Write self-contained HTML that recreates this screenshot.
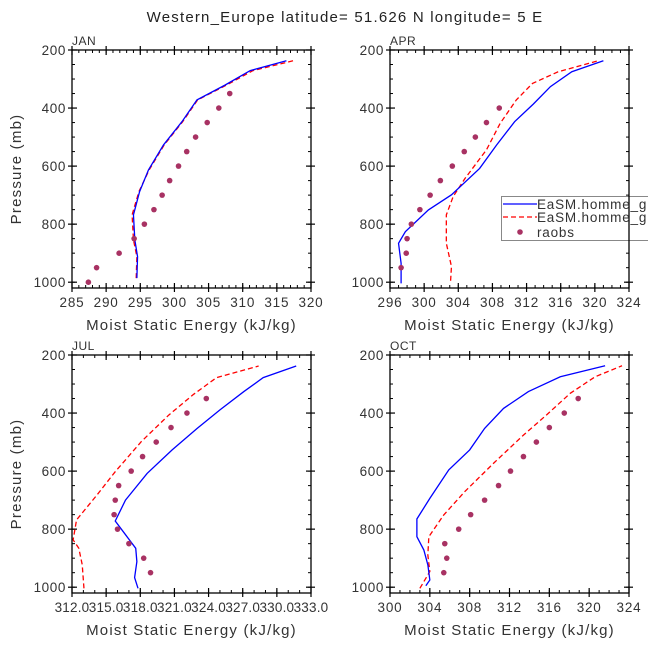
<!DOCTYPE html>
<html><head><meta charset="utf-8"><style>
body{margin:0;background:#fff}
svg{display:block;font-family:"Liberation Sans",sans-serif}
</style></head><body>
<svg id="c" width="648" height="649" xmlns="http://www.w3.org/2000/svg">
<text x="345" y="22" text-anchor="middle" font-size="15" letter-spacing="1.2" fill="#222">Western_Europe  latitude= 51.626 N longitude= 5 E</text>
</svg>
<script>
const janP=[986,912,854,768,688,613,527,447,372,321,271,237];
const janBlue=[294.5,294.6,294.2,294.0,294.9,296.2,298.4,301.1,303.3,307.4,311.1,316.4];
const janRed=[294.4,294.5,294.0,293.8,294.8,296.3,298.5,301.2,303.4,307.6,311.5,317.4];
const obsP=[1000,950,900,850,800,750,700,650,600,550,500,450,400,350];
const janObs=[287.4,288.6,291.9,294.1,295.6,297.0,298.2,299.3,300.6,301.8,303.1,304.8,306.5,308.1];
const aprBlueP=[1004,935,866,826,751,699,608,527,447,386,326,275,237];
const aprBlue=[297.3,297.3,297.0,297.8,300.5,303.2,306.5,308.5,310.6,312.8,314.8,317.3,321.0];
const aprRedP=[995,946,866,768,705,642,544,453,372,315,275,237];
const aprRed=[303.1,303.2,302.6,302.6,303.4,304.8,307.3,308.9,310.8,312.7,315.7,320.4];
const aprObs=[null,297.3,297.9,298.0,298.5,299.5,300.7,301.9,303.3,304.7,306.0,307.3,308.8,null];
const julBlueP=[1004,967,912,866,772,700,608,527,453,389,326,278,238];
const julBlue=[317.8,317.5,317.7,317.6,315.8,316.7,318.6,320.8,323.0,325.0,327.1,328.8,331.7];
const julRedP=[1004,923,866,837,768,682,602,498,407,335,278,238];
const julRed=[313.05,312.9,312.6,312.1,312.4,314.2,315.8,318.1,320.5,322.7,324.7,328.4];
const julObs=[null,318.9,318.3,317.0,316.0,315.7,315.8,316.1,317.2,318.2,319.4,320.7,322.1,323.8];
const octBlueP=[995,975,923,872,826,765,694,596,527,453,384,326,275,237];
const octBlue=[303.6,304.0,303.8,303.4,302.7,302.7,304.0,305.9,308.0,309.5,311.4,313.9,317.1,321.6];
const octRedP=[1004,946,889,826,751,671,573,476,407,332,275,237];
const octRed=[303.0,304.0,303.8,303.9,305.4,307.5,310.4,313.4,315.7,318.1,320.6,323.3];
const octObs=[null,305.4,305.7,305.5,306.9,308.1,309.5,310.9,312.1,313.4,314.7,316.0,317.5,318.9];
const janTicks=[285,290,295,300,305,310,315,320];
const aprTicks=[296,300,304,308,312,316,320,324];
const julTicks=[312.0,315.0,318.0,321.0,324.0,327.0,330.0,333.0];
const octTicks=[300,304,308,312,316,320,324];
const yTicks=[200,400,600,800,1000];

const svg=document.getElementById('c');
const NS='http://www.w3.org/2000/svg';
function mk(tag,attrs,parent){const e=document.createElementNS(NS,tag);for(const k in attrs)e.setAttribute(k,attrs[k]);(parent||svg).appendChild(e);return e;}

function panel(name,x0,y0,xmin,xmax,xt,minorStep,blueP,blue,redP,red,obs,showY,dec){
  const W=239,H=238;
  const g=mk('g',{});
  
  
  const X=v=>x0+(v-xmin)/(xmax-xmin)*W;
  const Y=p=>y0+(p-200)/820*H;
  const lab=mk('text',{x:x0,y:y0-5,'font-size':12,fill:'#333','letter-spacing':0.5},g);lab.textContent=name.toUpperCase();
  
  
  for(let p=250;p<=1000;p+=50){
    mk('line',{x1:x0,x2:x0+3,y1:Y(p),y2:Y(p),stroke:'#000','stroke-width':1},g);
    mk('line',{x1:x0+W,x2:x0+W-3,y1:Y(p),y2:Y(p),stroke:'#000','stroke-width':1},g);
  }
  for(let v=xmin;v<=xmax+1e-6;v+=minorStep){
    mk('line',{x1:X(v),x2:X(v),y1:y0+H,y2:y0+H-3,stroke:'#000','stroke-width':1},g);
    mk('line',{x1:X(v),x2:X(v),y1:y0,y2:y0+3,stroke:'#000','stroke-width':1},g);
  }
  yTicks.forEach(p=>{
    mk('line',{x1:x0-4,x2:x0+5,y1:Y(p),y2:Y(p),stroke:'#000','stroke-width':1.2},g);
    mk('line',{x1:x0+W-5,x2:x0+W+4,y1:Y(p),y2:Y(p),stroke:'#000','stroke-width':1.2},g);
    const t=mk('text',{x:x0-6,y:Y(p)+5,'text-anchor':'end','font-size':13.5,'letter-spacing':0.6,fill:'#333'},g);t.textContent=p;
    
    
  });
  xt.forEach(v=>{
    mk('line',{x1:X(v),x2:X(v),y1:y0+H+4,y2:y0+H-5,stroke:'#000','stroke-width':1.2},g);
    mk('line',{x1:X(v),x2:X(v),y1:y0-4,y2:y0+5,stroke:'#000','stroke-width':1.2},g);
    const t=mk('text',{x:X(v),y:y0+H+19,'text-anchor':'middle','font-size':13.5,'letter-spacing':dec?0.2:0.8,fill:'#333'},g);t.textContent=dec?v.toFixed(1):v;
    
    
  });
  const xt2=mk('text',{x:x0+W/2,y:y0+H+42,'text-anchor':'middle','font-size':15,'letter-spacing':1.2,fill:'#333'},g);xt2.textContent='Moist Static Energy (kJ/kg)';
  
  
  if(showY){
    const yt=mk('text',{x:0,y:0,'text-anchor':'middle','font-size':15,'letter-spacing':1.2,fill:'#333',transform:`translate(21,${y0+H/2}) rotate(-90)`},g);yt.textContent='Pressure (mb)';
    
    
  }
  const r=mk('polyline',{points:red.map((v,i)=>X(v)+','+Y(redP[i])).join(' '),fill:'none',stroke:'#f00','stroke-width':1.3,'stroke-dasharray':'5,3'},g);
  
  
  const b=mk('polyline',{points:blue.map((v,i)=>X(v)+','+Y(blueP[i])).join(' '),fill:'none',stroke:'#00f','stroke-width':1.3},g);
  
  
  obs.forEach((v,i)=>{ if(v===null)return;
    const c=mk('circle',{cx:X(v),cy:Y(obsP[i]),r:2.8,fill:'#a83263'},g);
    
    
  });
  const box=mk('rect',{x:x0,y:y0,width:W,height:H,fill:'none',stroke:'#000','stroke-width':1.3},g);
  
  
}
panel('jan',72,50,285,320,janTicks,1,janP,janBlue,janP,janRed,janObs,true,false);
panel('apr',390,50,296,324,aprTicks,1,aprBlueP,aprBlue,aprRedP,aprRed,aprObs,false,false);
panel('jul',72,355,312,333,julTicks,1,julBlueP,julBlue,julRedP,julRed,julObs,true,true);
panel('oct',390,355,300,324,octTicks,1,octBlueP,octBlue,octRedP,octRed,octObs,false,false);

const lg=mk('g',{});


mk('rect',{x:501.5,y:196.5,width:160,height:44,fill:'#fff',stroke:'#888','stroke-width':1},lg);
mk('line',{x1:629,x2:629,y1:196,y2:241,stroke:'#000','stroke-width':1.3},lg);
mk('line',{x1:503,x2:537,y1:204,y2:204,stroke:'#00f','stroke-width':1.3},lg);
mk('line',{x1:503,x2:537,y1:217,y2:217,stroke:'#f00','stroke-width':1.3,'stroke-dasharray':'5,3'},lg);
mk('circle',{cx:520,cy:232,r:2.8,fill:'#a83263'},lg);
[['EaSM.homme_gr',209],['EaSM.homme_gr',222],['raobs',237]].forEach((d,i)=>{
  const t=mk('text',{x:537,y:d[1],'font-size':13.5,'letter-spacing':0.8,fill:'#333'},lg);t.textContent=d[0];
  
  
});
</script>
</body></html>
